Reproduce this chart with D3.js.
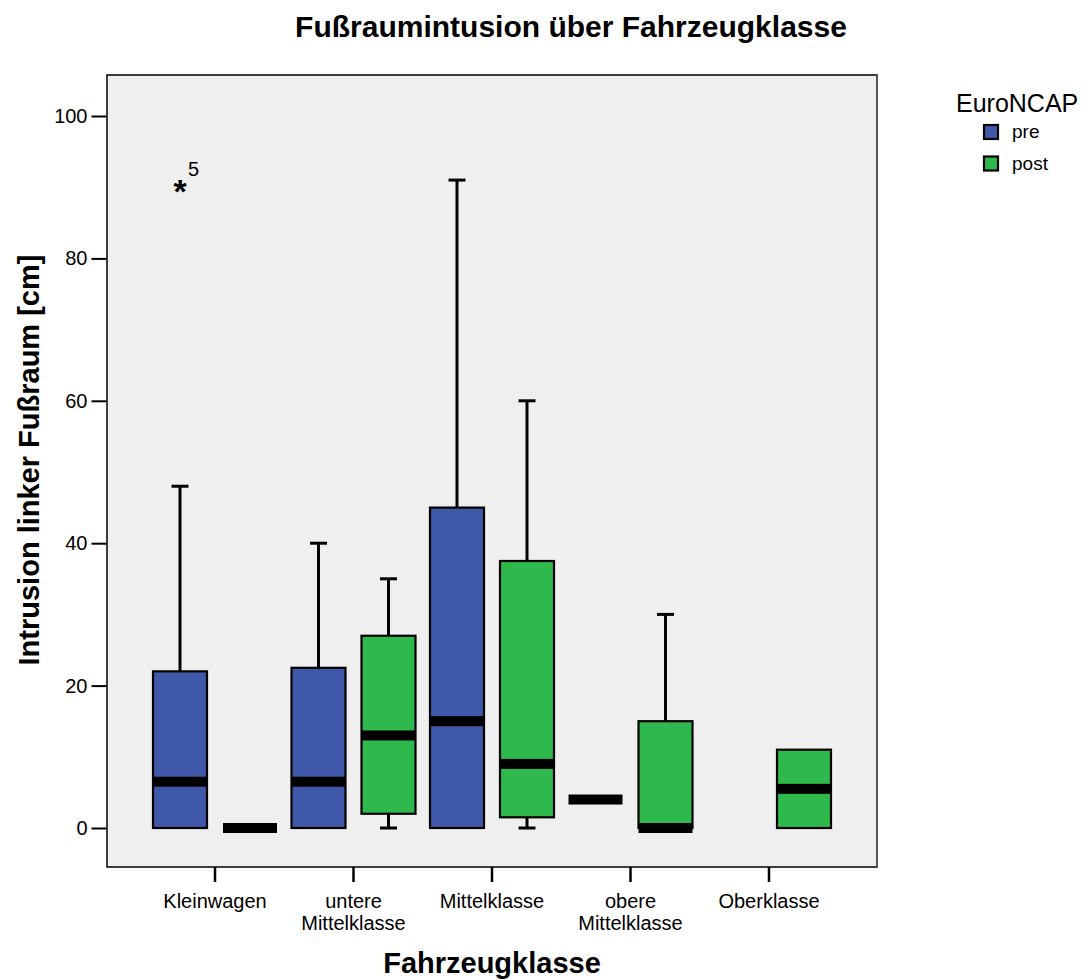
<!DOCTYPE html>
<html>
<head>
<meta charset="utf-8">
<script src="https://cdn.jsdelivr.net/npm/d3@7"></script>
<style>
  html, body { margin: 0; padding: 0; background: #ffffff; }
  svg { display: block; font-family: Arial, "Liberation Sans", sans-serif; }
</style>
</head>
<body>
<svg id="chart" width="1085" height="980"></svg>
<script>
// Fahrzeugklassen on the x axis
const categories = ["Kleinwagen", "untere\nMittelklasse", "Mittelklasse", "obere\nMittelklasse", "Oberklasse"];
const groups = ["pre", "post"];
const groupColors = ["#3f58aa", "#2fb84b"];

// Box statistics per class: [min, Q1, median, Q3, max]; null where no data
const preStats = [
  [0, 0, 6.5, 22, 48],
  [0, 0, 6.5, 22.5, 40],
  [0, 0, 15, 45, 91],
  [4, 4, 4, 4, 4],
  null
];
const postStats = [
  [0, 0, 0, 0, 0],
  [0, 2, 13, 27, 35],
  [0, 1.5, 9, 37.5, 60],
  [0, 0, 0, 15, 30],
  [0, 0, 5.5, 11, 11]
];

// Extreme values (category index, group, value, case label)
const extremes = [
  { cat: 0, group: "pre", value: 90, label: "5" }
];

const yTicks = [0, 20, 40, 60, 80, 100];

const FONT = "Arial, 'Liberation Sans', sans-serif";
const svg = d3.select("#chart");
const frame = { left: 107, top: 75, right: 877, bottom: 867 };

const x = d3.scaleBand().domain(categories).range([145.75, 838.25]).padding(0);
const xGroup = d3.scalePoint().domain(groups).range([-35, 35]);
const y = d3.scaleLinear().domain([0, 100]).range([828, 116]);
const boxW = 54;

// Title
svg.append("text")
  .attr("x", 571).attr("y", 37)
  .attr("text-anchor", "middle")
  .attr("font-size", 30).attr("font-weight", "bold")
  .text("Fußraumintusion über Fahrzeugklasse");

// Plot background and frame
svg.append("rect")
  .attr("x", frame.left).attr("y", frame.top)
  .attr("width", frame.right - frame.left).attr("height", frame.bottom - frame.top)
  .attr("fill", "#efefef").attr("stroke", "#000").attr("stroke-width", 1.5);
svg.append("line")
  .attr("x1", frame.right).attr("x2", frame.right)
  .attr("y1", frame.top).attr("y2", frame.bottom)
  .attr("stroke", "#555").attr("stroke-width", 2);

// Y axis
const yAxis = d3.axisLeft(y).tickValues(yTicks).tickSize(15).tickPadding(4).tickFormat(d3.format("d"));
const gy = svg.append("g").attr("transform", `translate(${frame.left - 0.5},0)`).call(yAxis);
gy.select(".domain").remove();
gy.selectAll(".tick line").attr("stroke", "#000").attr("stroke-width", 2);
gy.selectAll(".tick text").attr("font-size", 20).attr("fill", "#000").attr("font-family", FONT);

// X axis
const xAxis = d3.axisBottom(x).tickSize(15).tickPadding(0).tickFormat("");
const gx = svg.append("g").attr("transform", `translate(0,${frame.bottom})`).call(xAxis);
gx.select(".domain").remove();
gx.selectAll(".tick line").attr("stroke", "#000").attr("stroke-width", 2.5);
gx.selectAll(".tick").each(function(d) {
  const lines = d.split("\n");
  const t = d3.select(this).append("text")
    .attr("text-anchor", "middle").attr("font-size", 20).attr("fill", "#000")
    .attr("font-family", FONT);
  lines.forEach((ln, i) => {
    t.append("tspan").attr("x", 0).attr("y", 41 + i * 22).text(ln);
  });
});

// Axis titles
svg.append("text")
  .attr("transform", "translate(39,460) rotate(-90)")
  .attr("text-anchor", "middle")
  .attr("font-size", 29).attr("font-weight", "bold")
  .text("Intrusion linker Fußraum [cm]");
svg.append("text")
  .attr("x", 492).attr("y", 973)
  .attr("text-anchor", "middle")
  .attr("font-size", 29).attr("font-weight", "bold")
  .text("Fahrzeugklasse");

// Boxplots
const plot = svg.append("g");
const series = [
  { group: "pre", stats: preStats, color: groupColors[0] },
  { group: "post", stats: postStats, color: groupColors[1] }
];

series.forEach(s => {
  s.stats.forEach((st, i) => {
    if (!st) return;
    const [mn, q1, med, q3, mx] = st;
    const cx = x(categories[i]) + x.bandwidth() / 2 + xGroup(s.group);
    const g = plot.append("g");
    const capW = 17;
    // upper whisker
    if (mx > q3) {
      g.append("line").attr("x1", cx).attr("x2", cx).attr("y1", y(q3)).attr("y2", y(mx))
        .attr("stroke", "#000").attr("stroke-width", 3);
      g.append("line").attr("x1", cx - capW / 2).attr("x2", cx + capW / 2).attr("y1", y(mx)).attr("y2", y(mx))
        .attr("stroke", "#000").attr("stroke-width", 3);
    }
    // lower whisker
    if (mn < q1) {
      g.append("line").attr("x1", cx).attr("x2", cx).attr("y1", y(q1)).attr("y2", y(mn))
        .attr("stroke", "#000").attr("stroke-width", 3);
      g.append("line").attr("x1", cx - capW / 2).attr("x2", cx + capW / 2).attr("y1", y(mn)).attr("y2", y(mn))
        .attr("stroke", "#000").attr("stroke-width", 3);
    }
    // box
    if (q3 > q1) {
      g.append("rect")
        .attr("x", cx - boxW / 2).attr("y", y(q3))
        .attr("width", boxW).attr("height", y(q1) - y(q3))
        .attr("fill", s.color).attr("stroke", "#000").attr("stroke-width", 2.2);
    }
    // median bar
    g.append("rect")
      .attr("x", cx - boxW / 2).attr("y", y(med) - 5)
      .attr("width", boxW).attr("height", 10)
      .attr("fill", "#000");
  });
});

// Extreme values
extremes.forEach(e => {
  const cx = x(categories[e.cat]) + x.bandwidth() / 2 + xGroup(e.group);
  plot.append("text")
    .attr("x", cx).attr("y", y(e.value) + 16)
    .attr("text-anchor", "middle").attr("font-size", 34).attr("font-weight", "bold")
    .text("*");
  plot.append("text")
    .attr("x", cx + 8).attr("y", y(e.value) - 11)
    .attr("font-size", 20)
    .text(e.label);
});

// Legend
const legend = svg.append("g");
legend.append("text").attr("x", 956).attr("y", 112).attr("font-size", 25).text("EuroNCAP");
groups.forEach((gname, i) => {
  const ly = 132 + i * 31.5;
  legend.append("rect")
    .attr("x", 984).attr("y", ly - 7).attr("width", 14).attr("height", 14)
    .attr("fill", groupColors[i]).attr("stroke", "#000").attr("stroke-width", 2.2);
  legend.append("text").attr("x", 1012).attr("y", ly + 6).attr("font-size", 19).text(gname);
});
</script>
</body>
</html>
